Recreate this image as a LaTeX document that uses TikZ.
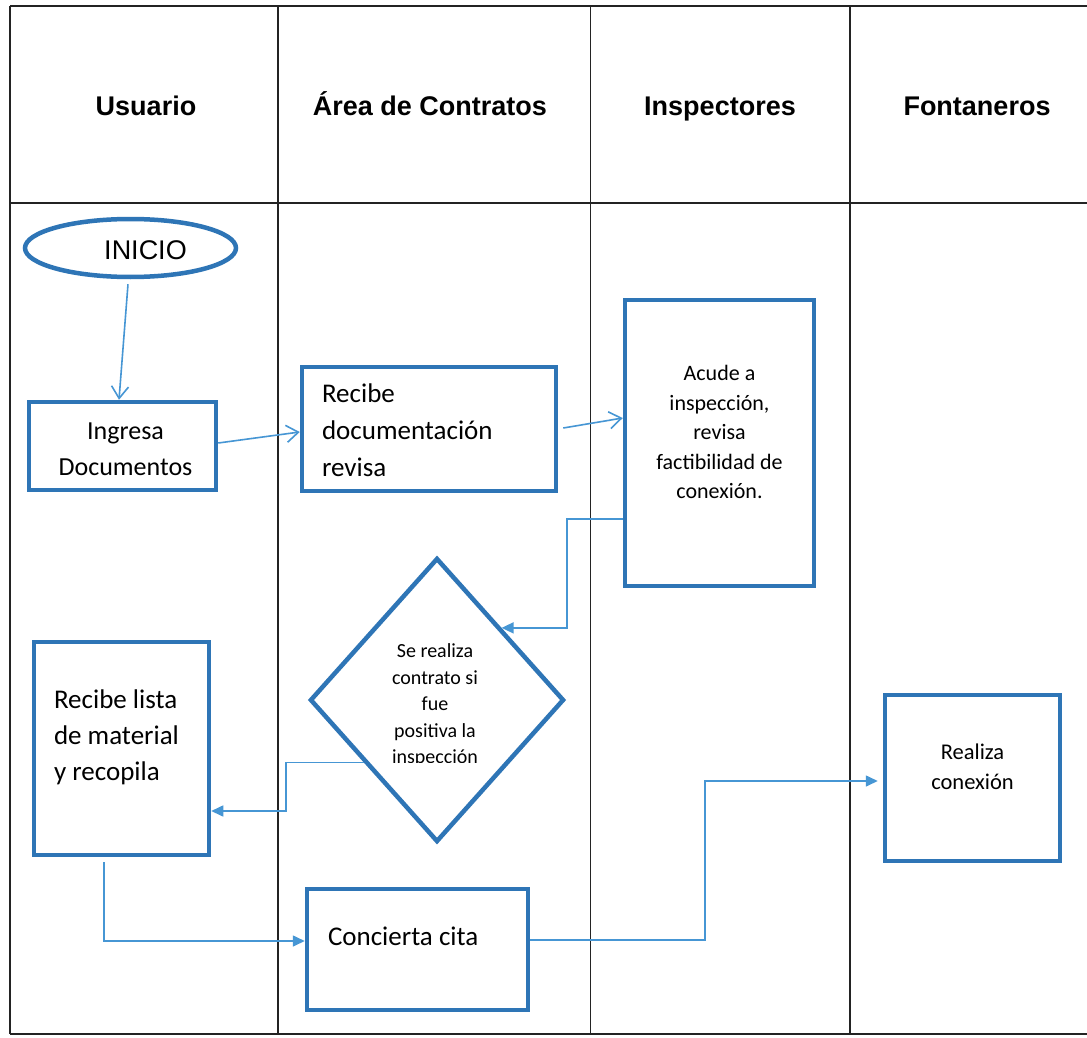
\documentclass[tikz,border=0pt]{standalone}
\usepackage{fontspec}
\newfontfamily\calibri{Carlito}
\newfontfamily\arialf{Liberation Sans}
\usetikzlibrary{shapes.geometric,arrows.meta,calc}
\definecolor{boxblue}{RGB}{46,117,182}
\definecolor{linkblue}{RGB}{70,150,212}
\definecolor{gridline}{RGB}{35,35,35}
\newcommand{\mvbox}[3]{\raisebox{#2}[\height][\depth]{\kern#1\relax#3\kern-#1\relax}}
\begin{document}
\begin{tikzpicture}[x=1pt,y=-1pt,
  laneline/.style={draw=gridline,line width=1.2pt},
  hdr/.style={font=\arialf\bfseries\fontsize{27}{32}\selectfont,text height=19.4pt,text depth=0pt,inner sep=0pt},
  flowbox/.style={rectangle,draw=boxblue,line width=4.5pt,fill=white,inner sep=0pt,font=\calibri},
  startell/.style={ellipse,draw=boxblue,line width=4.5pt,fill=white,inner sep=0pt,font=\arialf\fontsize{27}{32}\selectfont},
  decis/.style={diamond,draw=boxblue,line width=4.5pt,fill=white,inner sep=0pt},
  openlink/.style={draw=linkblue,line width=1.6pt,-{Straight Barb[length=12pt,width=17pt]}},
  filllink/.style={draw=linkblue,line width=1.6pt,-{Triangle[length=12pt,width=11pt]}},
  plaintext/.style={inner sep=0pt,font=\calibri}
]
\useasboundingbox (0,0) rectangle (1087,1038);
\fill[white] (0,0) rectangle (1087,1038);

% swimlane frame
\draw[laneline] (10,6) -- (1087,6);
\draw[laneline] (10,203) -- (1087,203);
\draw[laneline] (10,1034) -- (1087,1034);
\draw[laneline] (10,6) -- (10,1034);
\draw[laneline] (278,6) -- (278,1034);
\draw[laneline] (590.5,6) -- (590.5,1034);
\draw[laneline] (850,6) -- (850,1034);

% headers
\node[hdr] (hU) at (146,106) {Usuario};
\node[hdr] (hA) at (430,106) {Área de Contratos};
\node[hdr] (hI) at (720,106) {Inspectores};
\node[hdr] (hF) at (977,106) {Fontaneros};

% shapes
\node[startell,minimum width=211pt,minimum height=58pt] (ini) at (130.5,248) {\mvbox{15pt}{-2pt}{INICIO}};

\node[flowbox,minimum width=187pt,minimum height=88pt] (ing) at (122.5,446)
  {\fontsize{26}{36}\selectfont\mvbox{3pt}{-4pt}{\begin{tabular}{@{}c@{}}Ingresa\\Documentos\end{tabular}}};

\node[flowbox,minimum width=254pt,minimum height=124pt] (rd) at (429,429)
  {\fontsize{27}{37}\selectfont\mvbox{0pt}{-3pt}{\begin{tabular}{@{}p{214pt}@{}}Recibe\\documentación\\revisa\end{tabular}}};

\node[flowbox,minimum width=189pt,minimum height=286pt] (ac) at (719.5,443)
  {\fontsize{22}{29.5}\selectfont\mvbox{0pt}{9pt}{\begin{tabular}{@{}c@{}}Acude a\\inspección,\\revisa\\factibilidad de\\conexión.\end{tabular}}};

\node[decis,minimum width=254pt,minimum height=284pt] (dia) at (437,700) {};
\begin{scope}
  \clip (300,540) rectangle (580,762);
  \node[plaintext] (diat) at (dia.center)
    {\fontsize{20}{26.5}\selectfont\mvbox{-2pt}{-5.5pt}{\begin{tabular}{@{}c@{}}Se realiza\\contrato si\\fue\\positiva la\\inspección\end{tabular}}};
\end{scope}

\node[flowbox,minimum width=175pt,minimum height=213pt] (rl) at (121.5,748.5)
  {\fontsize{27}{36}\selectfont\mvbox{0pt}{11pt}{\begin{tabular}{@{}p{135pt}@{}}Recibe lista\\de material\\y recopila\end{tabular}}};

\node[flowbox,minimum width=221pt,minimum height=121pt] (cc) at (417.5,949.5)
  {\fontsize{27}{36}\selectfont\mvbox{0pt}{11.5pt}{\begin{tabular}{@{}p{179pt}@{}}Concierta cita\end{tabular}}};

\node[flowbox,minimum width=175pt,minimum height=166pt] (rc) at (972.5,778)
  {\fontsize{22.5}{30}\selectfont\mvbox{0pt}{10pt}{\begin{tabular}{@{}c@{}}Realiza\\conexión\end{tabular}}};

% connectors
\draw[openlink] ($(ini.south)+(-2.5,5)$) -- ($(ing.north)+(-3.5,0)$);
\draw[openlink] ($(ing.east)+(0,-3)$) -- ($(rd.west)+(0,3)$);
\draw[openlink] ($(rd.east)+(5,-1)$) -- ($(ac.west)+(0,-25)$);
\draw[filllink] ($(ac.west)+(0,76)$) -- ++(-55.75,0) |- (dia.north east);
\draw[filllink] ($(dia.west)!0.434!(dia.south)$) -- ++(-78,0) |- ($(rl.east)+(0,62.5)$);
\draw[filllink] ($(rl.south)+(-17.5,5)$) |- ($(cc.west)+(0,-8.5)$);
\draw[filllink] ($(cc.east)+(0,-9.5)$) -- ++(175,0) |- ($(rc.west)+(-5,3)$);
\end{tikzpicture}
\end{document}
